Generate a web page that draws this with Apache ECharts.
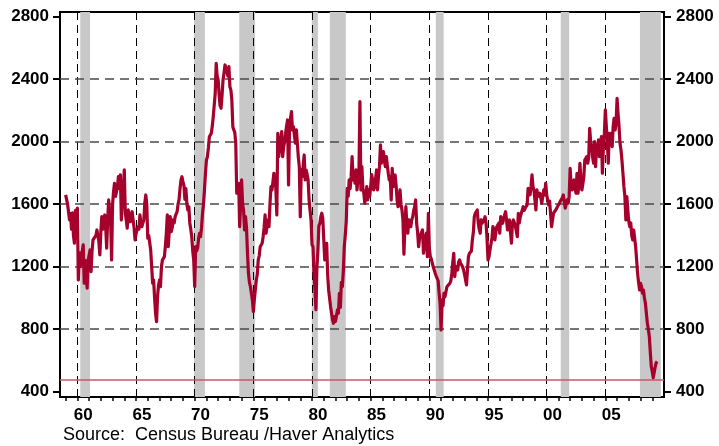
<!DOCTYPE html>
<html><head><meta charset="utf-8">
<script src="https://cdn.jsdelivr.net/npm/echarts@6/dist/echarts.min.js"></script>
<style>html,body{margin:0;padding:0;background:#fff}#c{width:719px;height:446px}</style>
</head><body><div id="c"></div>
<script>
// Housing starts, thousands of units (SAAR), monthly from Jan 1959
const firstYear = 1959;
const starts1959to1969 = [
  1660,1650,1600,1550,1500,1540,1440,1545,1400,1350,1560,1460,
  1575,1115,1290,1200,1260,1300,1340,1095,1240,1150,1062,1240,
  1250,1307,1168,1300,1371,1360,1382,1400,1435,1400,1360,1275,
  1420,1520,1440,1430,1531,1450,1318,1500,1627,1560,1500,1243,
  1595,1680,1734,1650,1680,1712,1776,1700,1787,1499,1640,1700,
  1819,1542,1500,1446,1563,1520,1488,1530,1552,1499,1450,1371,
  1410,1435,1456,1440,1531,1480,1456,1480,1499,1610,1659,1600,
  1382,1400,1392,1307,1200,1094,1115,1000,900,848,1008,1080,
  1115,1072,1200,1243,1250,1264,1330,1414,1531,1328,1430,1520,
  1424,1450,1499,1480,1520,1530,1552,1600,1627,1700,1755,1776,
  1740,1720,1630,1700,1600,1563,1584,1480,1440,1392,1300,1243
];
const starts1970to1979 = [
  1073,1328,1300,1318,1380,1414,1392,1450,1542,1600,1691,1798,
  1883,1904,1960,2032,2040,2054,2100,2160,2171,2310,2502,2420,
  2395,2300,2230,2214,2300,2395,2440,2491,2470,2459,2420,2480,
  2352,2331,2267,2096,2075,2060,1990,1670,1700,1734,1456,1600,
  1755,1600,1563,1435,1520,1450,1286,1158,1100,1073,1030,987,
  913,990,1000,1115,1150,1243,1270,1328,1340,1350,1392,1450,
  1531,1414,1460,1499,1456,1600,1712,1691,1740,1798,1776,1700,
  1531,2054,1904,1960,2011,2064,1904,1968,2000,2054,2100,2139,
  1723,2096,2150,2192,2075,2096,2040,1990,2075,1990,1900,1840,
  1520,1819,1776,1850,1915,1755,1819,1790,1755,1627,1560,1499
];
const starts1980to1989 = [
  1341,1328,1158,1051,925,1196,1300,1460,1478,1520,1542,1510,
  1520,1243,1307,1350,1150,1051,1040,944,902,860,838,880,
  850,859,923,902,1030,940,1100,1073,1168,1328,1400,1488,
  1702,1650,1755,1700,1776,1904,1755,1790,1734,1819,1691,1755,
  1800,2256,1691,1840,1700,1670,1606,1650,1712,1627,1691,1650,
  1712,1790,1755,1691,1712,1760,1819,1691,1780,1840,1979,1862,
  1900,1936,1880,1840,1904,1850,1798,1755,1776,1627,1830,1712,
  1750,1787,1720,1627,1584,1620,1691,1600,1563,1499,1280,1450,
  1584,1470,1414,1499,1470,1456,1500,1520,1560,1584,1627,1478,
  1420,1328,1380,1403,1420,1435,1286,1340,1392,1414,1264,1542
];
const starts1990to1999 = [
  1320,1264,1250,1222,1200,1179,1158,1140,1136,1110,1030,966,
  795,987,950,1030,1008,1040,1072,1072,1080,1094,1110,1158,
  1230,1286,1136,1200,1190,1179,1230,1243,1222,1210,1200,1179,
  1150,1160,1083,1180,1264,1286,1275,1300,1371,1420,1520,1542,
  1540,1563,1478,1440,1414,1499,1478,1478,1500,1520,1478,1380,
  1243,1264,1307,1300,1380,1456,1440,1371,1420,1456,1456,1478,
  1414,1520,1499,1478,1510,1499,1552,1563,1435,1470,1499,1420,
  1350,1478,1499,1488,1460,1456,1392,1542,1480,1520,1540,1552,
  1584,1560,1574,1580,1595,1702,1691,1660,1712,1787,1712,1690,
  1702,1563,1691,1650,1638,1670,1640,1606,1650,1691,1659,1734
];
const starts2000to2009 = [
  1660,1627,1595,1620,1627,1456,1500,1542,1550,1552,1570,1584,
  1595,1606,1620,1627,1640,1659,1648,1574,1600,1627,1606,1650,
  1830,1720,1691,1730,1755,1700,1670,1798,1670,1720,1862,1760,
  1691,1730,1776,1883,1880,1904,1862,1900,2086,2000,1968,1900,
  1862,2000,1840,1950,1968,2011,1904,2000,2032,1798,1968,2050,
  2203,2100,2011,1862,2054,2000,2054,1968,2096,2150,2075,2118,
  2278,2182,2100,1990,1947,1880,1798,1712,1650,1500,1648,1560,
  1490,1456,1480,1400,1371,1435,1380,1328,1243,1158,1100,1051,
  1094,1073,1030,1050,1000,966,900,838,800,752,652,560,
  529,490,478,560,585,593
];
// Recession periods (start, end) in fractional years
const recessions = [
  [1960.25,1961.08],[1969.95,1970.87],[1973.8,1975.15],[1979.98,1980.5],
  [1981.52,1982.88],[1990.55,1991.22],[2001.2,2001.92],[2007.95,2009.73]
];
const yTickValues = [400,800,1200,1600,2000,2400,2800];
const yGridValues = [800,1200,1600,2000,2400];
const xGridYears = [1960,1965,1970,1975,1980,1985,1990,1995,2000,2005];
const xLabelYears = ['60','65','70','75','80','85','90','95','00','05'];
const xTickYears = [1959,1960,1961,1962,1963,1964,1965,1966,1967,1968,1969,1970,1971,1972,1973,1974,1975,1976,1977,1978,1979,1980,1981,1982,1983,1984,1985,1986,1987,1988,1989,1990,1991,1992,1993,1994,1995,1996,1997,1998,1999,2000,2001,2002,2003,2004,2005,2006,2007,2008,2009];
const sourceText = 'Source:  Census Bureau /Haver Analytics';

const values = [].concat(starts1959to1969, starts1970to1979, starts1980to1989, starts1990to1999, starts2000to2009);
const seriesData = values.map((v, i) => [firstYear + i / 12, v]);
const minValue = Math.min.apply(null, values);
const labelPositions = xGridYears.map(y => y + 0.5);

const FONT = '"Liberation Sans", Arial, sans-serif';
const chart = echarts.init(document.getElementById('c'), null, {renderer: 'canvas'});
const labelStyle = {color: '#000', fontSize: 17, fontWeight: 'bold', fontFamily: FONT};

chart.setOption({
  animation: false,
  backgroundColor: '#fff',
  grid: {left: 60, right: 55, top: 12, bottom: 49, show: true, borderColor: '#000', borderWidth: 2, backgroundColor: 'transparent'},
  xAxis: {
    type: 'value', min: 1958.52, max: 2010,
    axisLine: {show: false},
    splitLine: {show: false},
    axisTick: {show: true, customValues: xTickYears, length: 4, lineStyle: {color: '#000', width: 1.5}},
    axisLabel: Object.assign({
      customValues: labelPositions, margin: 10,
      formatter: v => xLabelYears[labelPositions.indexOf(v)]
    }, labelStyle)
  },
  yAxis: [{
    type: 'value', min: 366, max: 2830, position: 'left',
    axisLine: {show: false}, splitLine: {show: false},
    axisTick: {show: true, customValues: yTickValues, length: 7, lineStyle: {color: '#000', width: 2}},
    axisLabel: Object.assign({customValues: yTickValues, margin: 11, formatter: v => String(v)}, labelStyle)
  }, {
    type: 'value', min: 366, max: 2830, position: 'right',
    axisLine: {show: false}, splitLine: {show: false},
    axisTick: {show: true, customValues: yTickValues, length: 7, lineStyle: {color: '#000', width: 2}},
    axisLabel: Object.assign({customValues: yTickValues, margin: 12, formatter: v => String(v)}, labelStyle)
  }],
  graphic: [{
    type: 'text', left: 63, top: 426,
    style: {text: sourceText, fill: '#000', font: '18px ' + FONT}
  }],
  series: [{
    type: 'line', data: [], z: 1, silent: true,
    markArea: {
      silent: true, z: 1,
      itemStyle: {color: '#c8c8c8'},
      data: recessions.map(r => [{xAxis: r[0]}, {xAxis: r[1]}])
    }
  }, {
    type: 'line', data: [], z: 2, silent: true,
    markLine: {
      silent: true, z: 2, symbol: ['none','none'], label: {show: false},
      data: xGridYears.map(y => ({xAxis: y, lineStyle: {color: '#000', width: 1, type: [8,5]}}))
        .concat(yGridValues.map(v => ({yAxis: v, lineStyle: {color: '#4a4a4a', width: 1.5, type: [9,6]}})))
        .concat([{yAxis: minValue, lineStyle: {color: '#c9566b', width: 1.5, type: 'solid'}}])
    }
  }, {
    type: 'line', data: seriesData, z: 5, showSymbol: false, silent: true,
    lineStyle: {color: '#a6002c', width: 3.2, join: 'round'}
  }]
});
</script></body></html>
